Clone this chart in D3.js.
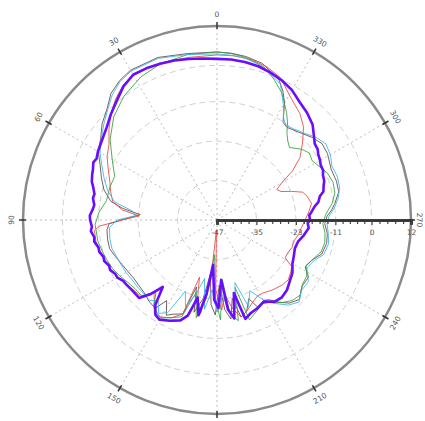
<!DOCTYPE html>
<html><head><meta charset="utf-8">
<script src="https://cdn.jsdelivr.net/npm/d3@7"></script>
<style>body{margin:0;background:#fff}svg{display:block}</style>
</head><body>
<svg id="chart" width="425" height="421"></svg>
<script>
// ---- data ----
const angleTicks = [0,30,60,90,120,150,180,210,240,270,300,330];
const angleLabels = [0,30,60,90,120,150,210,240,270,300,330];
const radialTicks = [-47,-35,-23,-11,0,12];
const radialDomain = [-47, 12];

// [angle (deg, counter-clockwise from top), level (dB)]
const seriesBlack = [[0,4.1],[10,4.4],[20,5.6],[30,5.6],[35,4.7],[40,3.2],[45,0.4],[50,-1.4],[55,-3.8],[60,-5.3],[65,-7.8],[70,-9.6],[75,-11.4],[80,-14.2],[83,-18.1],[86,-23.6],[89,-19.6],[92,-14.2],[95,-13.4],[100,-13.2],[105,-13.2],[110,-14.2],[115,-15.1],[120,-15.7],[125,-16.1],[130,-16.0],[135,-15.7],[140,-14.8],[145,-14.2],[148,-18.1],[152,-14.2],[155,-15.4],[160,-16.6],[163,-25.7],[166,-18.1],[170,-22.7],[173,-30.3],[176,-21.2],[179,-18.1],[182,-27.2],[185,-19.6],[188,-16.6],[191,-22.7],[194,-16.6],[198,-17.8],[202,-21.2],[205,-17.8],[210,-18.7],[213,-18.1],[217,-15.7],[221,-13.5],[226,-12.2],[232,-14.2],[238,-14.2],[242,-16.6],[247,-15.7],[252,-13.5],[258,-12.9],[263,-13.2],[268,-14.2],[272,-13.5],[275,-12.0],[278,-10.8],[283,-9.0],[288,-8.8],[294,-9.0],[301,-7.8],[306,-7.5],[311,-8.7],[317,-10.5],[323,-11.7],[326,-11.1],[330,-5.9],[333,-2.9],[336,-0.5],[340,1.0],[344,2.6],[350,3.5],[355,3.9]];
const seriesRed = [[0,3.2],[10,3.2],[20,3.8],[30,4.1],[35,2.9],[40,1.0],[45,-1.4],[50,-4.1],[55,-6.9],[60,-8.4],[65,-10.5],[70,-12.3],[75,-13.5],[80,-14.8],[84,-18.1],[87,-23.3],[90,-18.1],[93,-11.1],[95,-9.6],[100,-9.6],[105,-10.2],[110,-10.8],[115,-11.4],[120,-12.3],[125,-13.2],[130,-13.9],[135,-14.2],[139,-17.8],[142,-16.0],[146,-12.9],[150,-12.9],[155,-14.2],[160,-16.6],[163,-28.8],[166,-22.7],[170,-18.1],[174,-28.8],[177,-44.0],[179,-25.7],[183,-19.6],[186,-24.2],[190,-19.6],[194,-16.6],[198,-17.8],[203,-19.6],[208,-20.8],[212,-20.8],[218,-19.9],[225,-19.0],[230,-18.7],[235,-19.6],[238,-20.2],[241,-23.3],[245,-23.3],[250,-22.7],[255,-22.7],[260,-21.8],[265,-21.2],[270,-20.2],[275,-19.0],[280,-17.8],[285,-18.7],[288,-19.6],[291,-22.7],[294,-25.7],[297,-26.6],[300,-24.2],[303,-19.6],[307,-15.4],[312,-12.0],[317,-8.4],[322,-6.0],[329,-3.5],[336,0.4],[342,2.0],[348,2.9],[354,3.2]];
const seriesGreen = [[0,4.1],[10,4.1],[20,3.5],[28,2.3],[37,0.1],[45,-2.6],[53,-6.3],[60,-10.2],[67,-13.2],[73,-12.9],[80,-12.9],[86,-11.1],[92,-9.9],[100,-10.2],[105,-10.8],[110,-11.4],[115,-12.0],[120,-12.9],[125,-13.9],[130,-14.5],[135,-14.5],[140,-18.1],[144,-14.2],[150,-12.6],[155,-14.2],[160,-15.7],[164,-24.2],[168,-16.6],[172,-22.7],[176,-36.4],[179,-22.7],[182,-16.6],[185,-28.8],[188,-18.1],[192,-15.7],[195,-25.7],[198,-15.1],[203,-16.6],[208,-18.1],[213,-17.2],[218,-15.1],[223,-13.5],[228,-12.9],[233,-14.5],[238,-14.8],[243,-16.6],[248,-15.4],[253,-13.9],[258,-13.5],[263,-13.9],[268,-14.8],[273,-13.9],[278,-11.7],[283,-10.2],[288,-9.9],[293,-10.5],[298,-12.0],[302,-12.9],[306,-12.3],[310,-13.5],[315,-15.8],[318,-14.8],[321,-13.2],[324,-10.5],[327,-8.1],[333,-3.6],[338,-0.8],[343,1.7],[350,3.2],[355,3.8]];
const seriesCyan = [[0,3.5],[10,4.1],[20,5.3],[30,5.3],[35,4.4],[40,2.6],[45,0.1],[50,-2.0],[55,-4.1],[60,-5.9],[65,-8.4],[70,-10.5],[75,-12.6],[80,-15.4],[84,-21.2],[87,-22.1],[90,-16.6],[94,-14.2],[100,-13.9],[105,-13.9],[110,-14.5],[115,-14.8],[120,-15.1],[125,-15.4],[130,-15.4],[135,-15.4],[140,-15.1],[144,-16.6],[148,-13.5],[152,-15.1],[156,-23.3],[160,-19.0],[164,-23.3],[168,-28.8],[172,-19.6],[176,-25.7],[180,-19.0],[184,-24.2],[188,-18.1],[192,-19.6],[196,-27.2],[200,-19.0],[205,-23.3],[210,-19.0],[215,-16.0],[220,-13.2],[225,-11.7],[230,-13.5],[236,-13.5],[242,-16.0],[247,-15.1],[252,-12.9],[258,-12.3],[263,-12.9],[268,-13.5],[272,-12.9],[276,-11.1],[280,-9.6],[285,-8.4],[290,-8.1],[295,-8.4],[300,-7.2],[305,-6.6],[310,-7.8],[315,-9.6],[320,-10.8],[324,-11.4],[327,-9.9],[330,-6.6],[335,-1.4],[340,0.4],[345,2.0],[350,2.9],[355,3.3]];
const seriesPurple = [[0,2.0],[5,2.3],[10,2.7],[15,3.2],[20,3.6],[25,3.9],[30,4.0],[35,2.6],[40,0.4],[45,-1.4],[50,-3.2],[55,-4.4],[60,-5.2],[63,-5.9],[65,-5.5],[68,-6.3],[70,-6.6],[73,-7.2],[75,-8.0],[78,-8.9],[80,-8.7],[83,-9.4],[85,-9.1],[88,-8.3],[90,-8.4],[93,-8.9],[95,-8.5],[98,-9.3],[100,-9.1],[103,-10.0],[105,-9.9],[108,-10.7],[110,-10.5],[113,-11.4],[115,-11.1],[118,-12.0],[120,-12.0],[123,-13.0],[125,-13.1],[130,-13.5],[135,-13.5],[138,-16.6],[141,-20.8],[144,-15.1],[147,-12.6],[150,-12.0],[155,-13.2],[160,-14.5],[163,-16.6],[166,-22.7],[169,-17.5],[172,-24.2],[175,-33.3],[178,-22.7],[181,-20.2],[184,-28.8],[187,-19.6],[190,-16.6],[193,-24.2],[196,-15.7],[200,-16.9],[205,-17.5],[210,-18.4],[215,-16.6],[220,-16.3],[225,-16.9],[230,-18.1],[235,-19.0],[240,-20.5],[245,-21.2],[250,-21.8],[255,-21.5],[260,-20.2],[265,-19.0],[268,-19.4],[270,-18.7],[273,-18.9],[275,-18.1],[278,-17.0],[280,-15.7],[283,-14.9],[285,-13.5],[288,-12.9],[290,-12.3],[293,-12.0],[295,-11.4],[298,-11.3],[300,-10.8],[303,-10.3],[305,-9.6],[308,-9.3],[310,-8.4],[315,-5.9],[320,-4.4],[325,-3.2],[330,-1.4],[335,-0.2],[340,0.7],[345,1.4],[350,1.8],[355,2.0]];

const seriesList = [
  {data: seriesBlack,  color: "#5e4848", width: 1},
  {data: seriesRed,    color: "#e8473f", width: 1},
  {data: seriesGreen,  color: "#35a03a", width: 1},
  {data: seriesCyan,   color: "#3cb4e6", width: 1},
  {data: seriesPurple, color: "#6a0cff", width: 2.6}
];

// ---- layout ----
const cx = 217, cy = 220, R = 194;
const svg = d3.select("#chart");
const r = d3.scaleLinear().domain(radialDomain).range([0, R]);
const rad = d => -d * Math.PI / 180; // counter-clockwise
const g = svg.append("g").attr("transform", `translate(${cx},${cy})`);

// grid circles
g.selectAll("circle.grid").data(radialTicks.slice(1, -1)).join("circle")
  .attr("r", d => r(d)).attr("fill", "none")
  .attr("stroke", "#cfcfcf").attr("stroke-width", 1).attr("stroke-dasharray", "6,4");
// spokes
g.selectAll("line.spoke").data(angleTicks).join("line")
  .attr("x1", 0).attr("y1", 0)
  .attr("x2", d => R * Math.sin(rad(d))).attr("y2", d => -R * Math.cos(rad(d)))
  .attr("stroke", "#bdbdbd").attr("stroke-width", 1).attr("stroke-dasharray", "2,3");

// series
const line = d3.lineRadial().angle(d => rad(d[0])).radius(d => r(d[1])).curve(d3.curveLinearClosed);
g.selectAll("path.series").data(seriesList).join("path")
  .attr("d", d => line(d.data)).attr("fill", "none")
  .attr("stroke", d => d.color).attr("stroke-width", d => d.width)
  .attr("stroke-opacity", d => d.width > 2 ? 1 : 0.85).attr("stroke-linejoin", "round");

// outer circle
g.append("circle").attr("r", R).attr("fill", "none").attr("stroke", "#8a8a8a").attr("stroke-width", 2.5);
// angular ticks
g.selectAll("line.atick").data(angleTicks).join("line")
  .attr("x1", d => (R - 3) * Math.sin(rad(d))).attr("y1", d => -(R - 3) * Math.cos(rad(d)))
  .attr("x2", d => (R + 4) * Math.sin(rad(d))).attr("y2", d => -(R + 4) * Math.cos(rad(d)))
  .attr("stroke", "#333").attr("stroke-width", 1.5);
// angular labels
g.selectAll("text.alabel").data(angleLabels).join("text")
  .attr("transform", d => {
    const lr = d === 270 ? R + 8 : R + 12;
    const x = lr * Math.sin(rad(d)), y = -lr * Math.cos(rad(d));
    let rot;
    if (d <= 90) rot = -d; else if (d < 270) rot = 180 - d; else rot = 360 - d;
    return `translate(${x},${y}) rotate(${rot})`;
  })
  .attr("text-anchor", "middle").attr("dominant-baseline", "central")
  .attr("font-family", "DejaVu Sans, sans-serif").attr("font-size", 7.5).attr("fill", "#555")
  .text(d => d);

// radial axis
const axisScale = d3.scaleLinear().domain(radialDomain).range([0, R]);
const minor = [];
for (let i = 0; i < radialTicks.length - 1; i++) {
  const a = radialTicks[i], b = radialTicks[i + 1];
  for (let k = 1; k < 5; k++) minor.push(a + (b - a) * k / 5);
}
const ax = g.append("g");
ax.call(d3.axisBottom(axisScale).tickValues(minor).tickSize(4).tickFormat(""));
const axMajor = g.append("g");
axMajor.call(d3.axisBottom(axisScale).tickValues(radialTicks).tickSize(5).tickFormat(d => d));
[ax, axMajor].forEach(a => {
  a.select(".domain").attr("stroke", "#333").attr("stroke-width", 2.5);
  a.selectAll(".tick line").attr("stroke", "#444").attr("stroke-width", 1.2);
});
axMajor.selectAll(".tick text").attr("font-family", "DejaVu Sans, sans-serif")
  .attr("font-size", 7.5).attr("fill", "#555").attr("dy", "0.9em");
</script>
</body></html>
